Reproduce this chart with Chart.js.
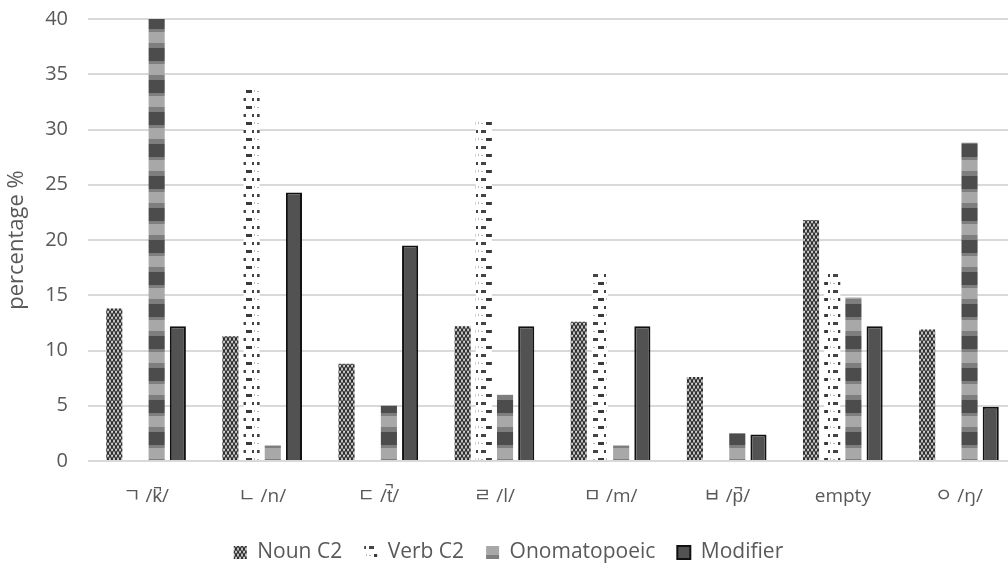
<!DOCTYPE html>
<html><head><meta charset="utf-8">
<script src="https://cdn.jsdelivr.net/npm/chart.js@4"></script>
<style>html,body{margin:0;padding:0;overflow:hidden;background:#fff}#wrap{width:1020px;height:573px}</style>
</head><body><div id="wrap"><canvas id="c" width="1020" height="573"></canvas></div>
<script>
const categories = ["ㄱ /k̚/", "ㄴ /n/", "ㄷ /t̚/", "ㄹ /l/", "ㅁ /m/", "ㅂ /p̚/", "empty", "ㅇ /ŋ/"];
const nounC2 = [13.8, 11.3, 8.8, 12.2, 12.6, 7.6, 21.8, 11.9];
const verbC2 = [0, 33.9, 0, 30.9, 17.3, 0, 17.3, 0];
const onomatopoeic = [40, 1.4, 5.0, 6.0, 1.4, 2.5, 14.8, 28.8];
const modifier = [12.2, 24.3, 19.5, 12.2, 12.2, 2.4, 12.2, 4.9];
const seriesNames = ["Noun C2", "Verb C2", "Onomatopoeic", "Modifier"];
const yMin = 0, yMax = 40, yStep = 5;

function tile(w, h, draw) {
  const c = document.createElement('canvas');
  c.width = w; c.height = h;
  const g = c.getContext('2d');
  g.fillStyle = '#ffffff'; g.fillRect(0, 0, w, h);
  draw(g);
  return g.createPattern(c, 'repeat');
}
const nounPattern = tile(4, 6, g => {
  g.strokeStyle = '#2e2e2e'; g.lineWidth = 1.3;
  g.beginPath(); g.ellipse(2, 3, 1.4, 2.5, 0, 0, Math.PI * 2); g.stroke();
});
const verbPattern = tile(16, 16, g => {
  g.fillStyle = '#444'; g.fillRect(1, 2, 5, 3); g.fillRect(12, 2, 2, 3);
  g.fillStyle = '#3a3a3a'; g.fillRect(6, 10, 6, 3);
  g.fillStyle = '#bbb'; g.fillRect(1, 11, 2, 1); g.fillRect(14, 10, 1, 2);
});
const onoPattern = tile(4, 32, g => {
  g.fillStyle = '#a8a8a8'; g.fillRect(0, 0, 4, 32);
  g.fillStyle = '#7e7e7e'; g.fillRect(0, 11, 4, 5); g.fillRect(0, 29, 4, 3);
  g.fillStyle = '#4c4c4c'; g.fillRect(0, 16, 4, 13);
});

const textColor = '#595959';
const fontFamily = "'Open Sans', 'Noto Sans CJK KR', sans-serif";

new Chart(document.getElementById('c'), {
  type: 'bar',
  data: {
    labels: categories,
    datasets: [
      { label: seriesNames[0], data: nounC2, backgroundColor: nounPattern, borderWidth: 0 },
      { label: seriesNames[1], data: verbC2, backgroundColor: verbPattern, borderWidth: 0 },
      { label: seriesNames[2], data: onomatopoeic, backgroundColor: onoPattern, borderWidth: 0 },
      { label: seriesNames[3], data: modifier, backgroundColor: '#525252', borderColor: '#111', borderWidth: 2 }
    ]
  },
  options: {
    responsive: false,
    animation: false,
    datasets: { bar: { categoryPercentage: 0.73, barPercentage: 0.76 } },
    layout: { padding: { top: 19, right: 3, bottom: 0, left: 0 } },
    plugins: {
      tooltip: { enabled: false },
      legend: {
        position: 'bottom',
        labels: { boxWidth: 13, boxHeight: 13, padding: 22, color: textColor,
                  font: { family: fontFamily, size: 21 } }
      }
    },
    scales: {
      x: {
        grid: { display: false },
        border: { display: false },
        ticks: { color: textColor, padding: 16, font: { family: fontFamily, size: 19 }, maxRotation: 0 },
        afterFit: s => { s.height = 59; }
      },
      y: {
        min: yMin, max: yMax,
        grid: { color: '#d9d9d9', lineWidth: 2, drawTicks: false },
        border: { display: false },
        ticks: { stepSize: yStep, color: textColor, padding: 20, font: { family: fontFamily, size: 20 } },
        title: { display: true, text: 'percentage %', color: textColor, font: { family: fontFamily, size: 22 }, padding: { top: 4, bottom: 0 } },
        afterFit: s => { s.width = 88; s.paddingTop = 0; s.paddingBottom = 0; }
      }
    }
  }
});
</script></body></html>
